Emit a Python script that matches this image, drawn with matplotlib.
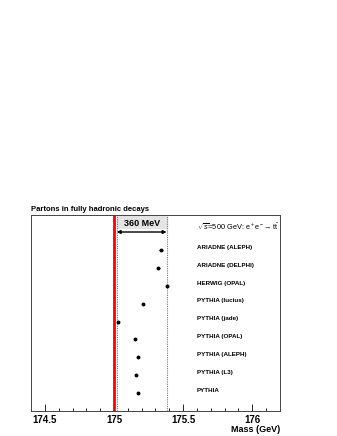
import numpy as np
import matplotlib
matplotlib.use("Agg")
import matplotlib.pyplot as plt

plt.rcParams['font.family'] = ['Liberation Sans', 'DejaVu Sans']
plt.rcParams['mathtext.fontset'] = 'custom'
plt.rcParams['mathtext.rm'] = 'Liberation Sans'
plt.rcParams['mathtext.it'] = 'Liberation Sans:italic'

# generator labels, top to bottom
generators = ["ARIADNE (ALEPH)", "ARIADNE (DELPHI)", "HERWIG (OPAL)",
              "PYTHIA (lucius)", "PYTHIA (jade)", "PYTHIA (OPAL)",
              "PYTHIA (ALEPH)", "PYTHIA (L3)", "PYTHIA"]
mass = [175.34, 175.32, 175.38, 175.21, 175.03, 175.15, 175.17, 175.16, 175.17]
mass_err = [0.012, 0.012, 0.004, 0.004, 0.004, 0.004, 0.004, 0.004, 0.004]

m_input = 175.0
band_lo, band_hi = 175.02, 175.38

fig = plt.figure(figsize=(3.37, 4.36), dpi=100)
ax = fig.add_axes([31/337, 25/436, 249/337, 196/436])

ypos = np.arange(len(generators), 0, -1)

ax.set_xlim(174.4, 176.2)
ax.set_ylim(0, 10.95)

# 360 MeV band
ax.fill_between([band_lo, band_hi], 10.2, 10.95, color="#e4e4e4", zorder=0)
ax.axvline(band_lo, color="#777777", ls=(0, (1, 1)), lw=0.8, zorder=1)
ax.axvline(band_hi, color="#777777", ls=(0, (1, 1)), lw=0.8, zorder=1)
ax.annotate("", xy=(band_lo, 10.0), xytext=(band_hi, 10.0),
            arrowprops=dict(arrowstyle="<|-|>", color="black", lw=1.0,
                            mutation_scale=5, shrinkA=0, shrinkB=0))
ax.text((band_lo + band_hi) / 2, 10.5, "360 MeV", ha="center", va="center",
        fontsize=6.5, fontweight="bold")

ax.axvline(m_input, color="red", lw=2, zorder=2)

ax.errorbar(mass, ypos, xerr=mass_err, fmt="o", color="black", ms=1.8,
            elinewidth=0.7, capsize=0, zorder=3)

for y, name in zip(ypos, generators):
    ax.text(175.6, y + 0.15, name, fontsize=4.5, fontweight="bold", va="center")

ax.text(175.6, 10.27, r"$\sqrt{s}$=500 GeV: e$^+$e$^-$→ t$\bar{\mathrm{t}}$",
        fontsize=5.3, va="center")

ax.set_xticks([174.5, 175, 175.5, 176])
ax.set_xticklabels(["174.5", "175", "175.5", "176"], fontweight="bold")
ax.set_xticks(np.arange(174.4, 176.21, 0.1), minor=True)
ax.tick_params(axis="x", which="major", direction="in", length=5, width=0.6,
               labelsize=7, pad=3)
ax.tick_params(axis="x", which="minor", direction="in", length=2.5, width=0.6)
ax.set_yticks([])
for s in ax.spines.values():
    s.set_linewidth(0.7)
    s.set_color("#444444")

ax.set_xlabel("Mass (GeV)", fontsize=6.5, fontweight="bold", loc="right", labelpad=0)
ax.set_title("Partons in fully hadronic decays", fontsize=5.5, fontweight="bold",
             loc="left", pad=3)

fig.savefig("out.png", dpi=100)
